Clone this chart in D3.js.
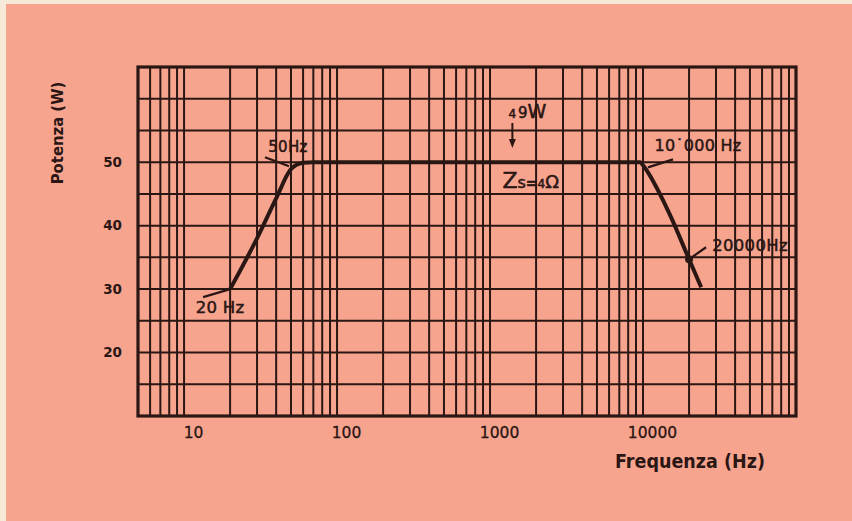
<!DOCTYPE html>
<html>
<head>
<meta charset="utf-8">
<script src="https://cdn.jsdelivr.net/npm/d3@7/dist/d3.min.js"></script>
<style>
  html, body { margin: 0; padding: 0; background: #f6e9d8; }
  svg { display: block; }
</style>
</head>
<body>
<svg id="chart" width="852" height="521"></svg>
<script>
// Power response of the amplifier versus frequency (Zs = 4 ohm)
const freqHz = [20, 30, 40, 50, 60, 70, 9600, 10000, 15000, 20000, 24000];
const powerW = [30, 38, 44.3, 48.9, 49.9, 50, 50, 49.5, 41.7, 34.7, 30.3];

const xTickValues = [10, 100, 1000, 10000];
const xTickLabels = ["10", "100", "1000", "10000"];
const yTickValues = [20, 30, 40, 50];
const yTickLabels = ["20", "30", "40", "50"];

const xDomain = [5, 100000];
const yDomain = [10, 65];
const yGridStep = 5;

// marked points along the curve and their captions
const markerFreqs = [20, 50, 10000, 20000];
const markerLabels = ["20 Hz", "50Hz", "10\u02D9000 Hz", "20000Hz"];

const INK = "#2a1613";
const svg = d3.select("#chart");

// paper
svg.append("rect").attr("x", 6).attr("y", 4).attr("width", 846).attr("height", 517)
  .attr("fill", "#f7a48f");

const plotLeft = 138, plotRight = 796, plotTop = 67, plotBottom = 416;
const x = d3.scaleLog().domain(xDomain).range([plotLeft, plotRight]);
const y = d3.scaleLinear().domain(yDomain).range([plotBottom, plotTop]);

// value of the response curve at a given frequency (interpolated on log-x)
function powerAt(f) {
  for (let i = 0; i < freqHz.length - 1; i++) {
    if (f >= freqHz[i] && f <= freqHz[i + 1]) {
      const t = (Math.log(f) - Math.log(freqHz[i])) / (Math.log(freqHz[i + 1]) - Math.log(freqHz[i]));
      return powerW[i] + t * (powerW[i + 1] - powerW[i]);
    }
  }
  return powerW[powerW.length - 1];
}

// log grid: every unit within each decade
const vGrid = [];
for (let d = 1; d <= 10000; d *= 10) {
  for (let k = 1; k <= 9; k++) {
    const v = k * d;
    if (v > xDomain[0] && v < xDomain[1]) vGrid.push(v);
  }
}
const hGrid = d3.range(yDomain[0] + yGridStep, yDomain[1], yGridStep);

const grid = svg.append("g");
grid.selectAll("line.v").data(vGrid).join("line").attr("class", "v")
  .attr("x1", d => x(d)).attr("x2", d => x(d))
  .attr("y1", plotTop).attr("y2", plotBottom)
  .attr("stroke", INK).attr("stroke-width", 2);
grid.selectAll("line.h").data(hGrid).join("line").attr("class", "h")
  .attr("x1", plotLeft).attr("x2", plotRight)
  .attr("y1", d => y(d)).attr("y2", d => y(d))
  .attr("stroke", INK).attr("stroke-width", 2);

// frame
svg.append("rect").attr("x", plotLeft).attr("y", plotTop)
  .attr("width", plotRight - plotLeft).attr("height", plotBottom - plotTop)
  .attr("fill", "none").attr("stroke", INK).attr("stroke-width", 3.2);

// axes (labels only, the grid carries the ticks)
const xAxis = d3.axisBottom(x).tickValues(xTickValues)
  .tickFormat((d, i) => xTickLabels[i]).tickSize(0).tickPadding(0);
const gx = svg.append("g").attr("transform", `translate(0,${plotBottom})`).call(xAxis);
gx.select(".domain").remove();
gx.selectAll("text")
  .attr("dx", 9).attr("y", 11).attr("dy", "0.71em")
  .attr("fill", INK).attr("stroke", INK).attr("stroke-width", 0.3)
  .style("font-family", "'DejaVu Sans', sans-serif").style("font-size", "15.5px");

const yAxis = d3.axisLeft(y).tickValues(yTickValues)
  .tickFormat((d, i) => yTickLabels[i]).tickSize(0).tickPadding(16);
const gy = svg.append("g").attr("transform", `translate(${plotLeft},0)`).call(yAxis);
gy.select(".domain").remove();
gy.selectAll("text")
  .attr("fill", INK)
  .style("font-family", "'DejaVu Sans', sans-serif").style("font-weight", "bold")
  .style("font-size", "13.5px");

// axis titles
svg.append("text")
  .attr("transform", "translate(63,133) rotate(-90)")
  .attr("text-anchor", "middle")
  .attr("fill", INK)
  .style("font-family", "'DejaVu Sans Condensed', 'DejaVu Sans', sans-serif")
  .style("font-weight", "bold").style("font-size", "16.5px")
  .text("Potenza (W)");

svg.append("text")
  .attr("x", 690).attr("y", 468)
  .attr("text-anchor", "middle")
  .attr("fill", INK)
  .style("font-family", "'DejaVu Sans Condensed', 'DejaVu Sans', sans-serif")
  .style("font-weight", "bold").style("font-size", "19.5px")
  .text("Frequenza (Hz)");

// response curve
const line = d3.line()
  .x((d, i) => x(freqHz[i]))
  .y(d => y(d))
  .curve(d3.curveMonotoneX);
svg.append("path").datum(powerW)
  .attr("d", line)
  .attr("fill", "none").attr("stroke", INK)
  .attr("stroke-width", 4).attr("stroke-linejoin", "round").attr("stroke-linecap", "butt");

// captions of the marked points: label offset, leader start and end (px from the point)
const captionLayout = [
  { lx: -10, ly: 18, sx: -27, sy: 8, ex: 0, ey: 0, size: 16.5 },
  { lx: -3, ly: -22, sx: -26, sy: -12, ex: -2, ey: -3, size: 15 },
  { lx: 55, ly: -20, sx: 30, sy: -6, ex: 5, ey: 2, size: 16 },
  { lx: 61, ly: -14, sx: 17, sy: -12, ex: 0, ey: 0, size: 16.5 }
];

const captions = svg.append("g");
markerFreqs.forEach((f, i) => {
  const L = captionLayout[i];
  const px = x(f), py = y(powerAt(f));
  captions.append("line")
    .attr("x1", px + L.sx).attr("y1", py + L.sy)
    .attr("x2", px + L.ex).attr("y2", py + L.ey)
    .attr("stroke", INK).attr("stroke-width", 2.2);
  captions.append("text")
    .attr("x", px + L.lx).attr("y", py + L.ly)
    .attr("dy", "0.35em")
    .attr("text-anchor", "middle")
    .attr("fill", INK).attr("stroke", INK).attr("stroke-width", 0.5)
    .style("font-family", "'DejaVu Sans', sans-serif")
    .style("font-size", L.size + "px")
    .style("letter-spacing", "0.3px")
    .text(markerLabels[i]);
});
// dot at 20 kHz
captions.append("circle")
  .attr("cx", x(20000)).attr("cy", y(powerAt(20000))).attr("r", 4)
  .attr("fill", INK);

// "49W" note with arrow towards the plateau
const noteX = x(1400);
const note = svg.append("text")
  .attr("x", noteX - 4).attr("y", 118)
  .attr("fill", INK).attr("stroke", INK).attr("stroke-width", 0.5)
  .style("font-family", "'DejaVu Sans', sans-serif");
note.append("tspan").style("font-size", "12px").text("4");
note.append("tspan").attr("dx", 2).style("font-size", "15px").text("9");
note.append("tspan").style("font-size", "19px").text("W");

svg.append("line")
  .attr("x1", noteX).attr("x2", noteX)
  .attr("y1", 123).attr("y2", 140)
  .attr("stroke", INK).attr("stroke-width", 2);
svg.append("path")
  .attr("d", `M${noteX - 3.5},139 L${noteX + 3.5},139 L${noteX},148 Z`)
  .attr("fill", INK);

// source impedance note
const zs = svg.append("text")
  .attr("x", noteX - 10).attr("y", 188)
  .attr("fill", INK).attr("stroke", INK).attr("stroke-width", 0.5)
  .style("font-family", "'DejaVu Sans', sans-serif");
zs.append("tspan").style("font-size", "22px").text("Z");
zs.append("tspan").style("font-size", "16px").text("s");
zs.append("tspan").style("font-size", "14px").style("font-weight", "bold").text("=");
zs.append("tspan").style("font-size", "12px").text("4");
zs.append("tspan").style("font-size", "18px").text("\u03A9");
</script>
</body>
</html>
